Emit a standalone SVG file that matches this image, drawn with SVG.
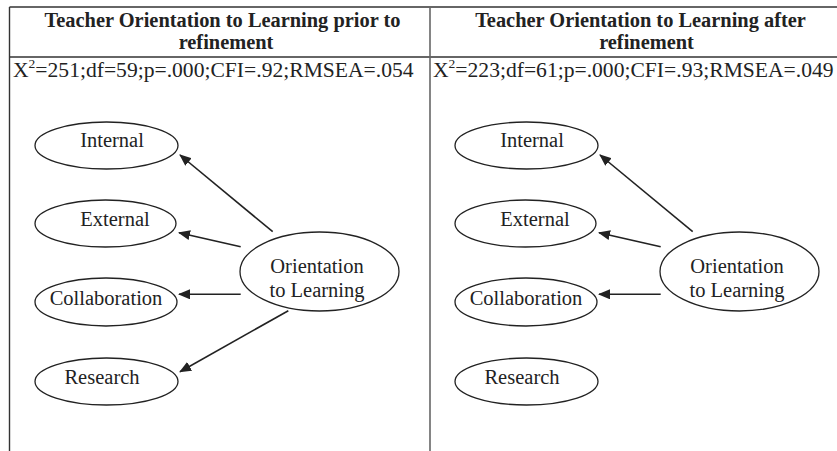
<svg xmlns="http://www.w3.org/2000/svg" width="837" height="451" viewBox="0 0 837 451">
<style>
.frame{stroke:#333;stroke-width:1.4;fill:none}
.mid{stroke:#666;stroke-width:1.6;fill:none}
.hdr{font-family:"Liberation Serif","Times New Roman",serif;font-weight:bold;font-size:20.4px;fill:#222;text-anchor:middle}
.stat{font-family:"Liberation Serif","Times New Roman",serif;font-size:21.6px;fill:#222}
.sup{font-size:13.5px}
.node ellipse{fill:#fff;stroke:#222;stroke-width:1.3}
.node text{font-family:"Liberation Serif","Times New Roman",serif;font-size:20.5px;fill:#222;text-anchor:middle}
.conn line{stroke:#222;stroke-width:1.6;marker-end:url(#ah)}
</style>
<defs>
<marker id="ah" viewBox="0 0 12 10" refX="11" refY="5" markerWidth="12" markerHeight="10" markerUnits="userSpaceOnUse" orient="auto">
<path d="M0,0 L12,5 L0,10 z" fill="#222"/>
</marker>
</defs>
<rect width="837" height="451" fill="#fff"/>
<g id="table">
<line class="frame" x1="9.5" y1="7" x2="837" y2="7"/>
<line class="frame" x1="9.5" y1="57" x2="837" y2="57"/>
<line class="frame" x1="9.5" y1="7" x2="9.5" y2="451" stroke="#222"/>
<line class="mid" x1="430" y1="7" x2="430" y2="451"/>
</g>
<g id="headers">
<text class="hdr" x="222.5" y="26.5">Teacher Orientation to Learning prior to</text>
<text class="hdr" x="226" y="48.5">refinement</text>
<text class="hdr" x="640.5" y="26.5">Teacher Orientation to Learning after</text>
<text class="hdr" x="646.5" y="48.5">refinement</text>
<text class="stat" x="13" y="76.5">X<tspan class="sup" dy="-8.5">2</tspan><tspan dy="8.5">=251;df=59;p=.000;CFI=.92;RMSEA=.054</tspan></text>
<text class="stat" x="433" y="76.5">X<tspan class="sup" dy="-8.5">2</tspan><tspan dy="8.5">=223;df=61;p=.000;CFI=.93;RMSEA=.049</tspan></text>
</g>
<g id="left-internal" class="node"><ellipse cx="106.5" cy="145.5" rx="71.5" ry="23.5"/><text x="112" y="147">Internal</text></g>
<g id="left-external" class="node"><ellipse cx="105.5" cy="223.5" rx="70.5" ry="23.5"/><text x="115" y="226">External</text></g>
<g id="left-collaboration" class="node"><ellipse cx="106" cy="302" rx="71" ry="24"/><text x="106" y="305">Collaboration</text></g>
<g id="left-research" class="node"><ellipse cx="106.5" cy="381.5" rx="71.5" ry="23.5"/><text x="102" y="384">Research</text></g>
<g id="left-orientation" class="node"><ellipse cx="319.5" cy="271.5" rx="79.5" ry="39.5"/><text x="317" y="273">Orientation</text><text x="317" y="297">to Learning</text></g>
<g id="right-internal" class="node"><ellipse cx="526.5" cy="145.5" rx="71.5" ry="23.5"/><text x="532" y="147">Internal</text></g>
<g id="right-external" class="node"><ellipse cx="525.5" cy="223.5" rx="70.5" ry="23.5"/><text x="535" y="226">External</text></g>
<g id="right-collaboration" class="node"><ellipse cx="526" cy="302" rx="71" ry="24"/><text x="526" y="305">Collaboration</text></g>
<g id="right-research" class="node"><ellipse cx="526.5" cy="381.5" rx="71.5" ry="23.5"/><text x="522" y="384">Research</text></g>
<g id="right-orientation" class="node"><ellipse cx="739.5" cy="271.5" rx="79.5" ry="39.5"/><text x="737" y="273">Orientation</text><text x="737" y="297">to Learning</text></g>
<g id="connectors" class="conn">
<line x1="272.7" y1="231.7" x2="180" y2="155"/>
<line x1="240.7" y1="246.7" x2="179" y2="232.7"/>
<line x1="240.7" y1="294.3" x2="179" y2="294.3"/>
<line x1="288.3" y1="310.7" x2="180" y2="371.7"/>
<line x1="692.7" y1="231.7" x2="600" y2="155"/>
<line x1="660.7" y1="246.7" x2="599" y2="232.7"/>
<line x1="660.7" y1="294.3" x2="599" y2="294.3"/>
</g>
</svg>
